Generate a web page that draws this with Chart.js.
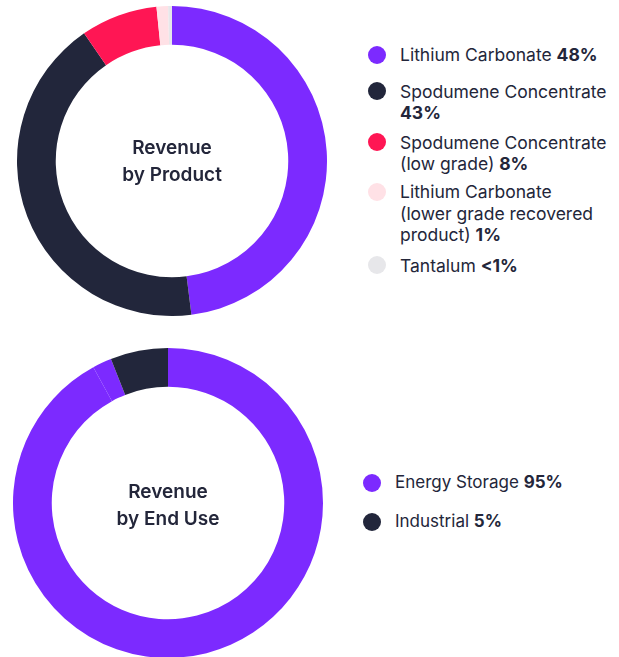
<!DOCTYPE html>
<html>
<head>
<meta charset="utf-8">
<script src="https://cdn.jsdelivr.net/npm/chart.js@4.4.1/dist/chart.umd.min.js"></script>
<style>
    html, body {
        margin: 0;
        padding: 0;
        background: #ffffff;
        width: 619px;
        height: 657px;
        overflow: hidden;
        font-family: Inter, "Noto Sans", sans-serif;
        color: #23263a;
    }
    .chart-box {
        position: absolute;
        width: 310px;
        height: 310px;
    }
    .legend {
        position: absolute;
        font-size: 17px;
        line-height: 21px;
    }
    .legend-item {
        display: flex;
        align-items: flex-start;
    }
    .legend-dot {
        flex: 0 0 18px;
        width: 18px;
        height: 18px;
        border-radius: 50%;
        margin-top: 1.5px;
    }
    .legend-text {
        margin-left: 14px;
        width: 210px;
    }
    #productLegend {
        font-size: 17.5px;
        line-height: 21.5px;
    }
    #productLegend .legend-text {
        width: 208px;
    }
    .legend-text b {
        font-weight: 700;
    }
</style>
</head>
<body>

<div class="chart-box" style="left:17px; top:6px;"><canvas id="productChart"></canvas></div>
<div class="legend" id="productLegend" style="left:368px; top:44px;"></div>

<div class="chart-box" style="left:13px; top:348px;"><canvas id="endUseChart"></canvas></div>
<div class="legend" id="endUseLegend" style="left:363px; top:472px;"></div>

<script>
// Revenue by product
const productLabels = [
    "Lithium Carbonate",
    "Spodumene Concentrate",
    "Spodumene Concentrate (low grade)",
    "Lithium Carbonate (lower grade recovered product)",
    "Tantalum"
];
const productValues = [48, 42.4, 8, 1.2, 0.4];
const productShares = ["48%", "43%", "8%", "1%", "<1%"];
const productColors = ["#7c2aff", "#22263b", "#ff1654", "#ffe1e6", "#e7e7ea"];

// Revenue by end use (energy storage is drawn in two pieces in the original)
const endUseLabels = ["Energy Storage", "Energy Storage", "Industrial"];
const endUseValues = [92, 2, 6];
const endUseColors = ["#7c2aff", "#7c2aff", "#22263b"];
const endUseLegendLabels = ["Energy Storage", "Industrial"];
const endUseShares = ["95%", "5%"];
const endUseLegendColors = ["#7c2aff", "#22263b"];

const productTitle = ["Revenue", "by Product"];
const endUseTitle = ["Revenue", "by End Use"];

const centerText = {
    id: 'centerText',
    afterDraw(chart, args, opts) {
        const ctx = chart.ctx;
        const meta = chart.getDatasetMeta(0).data[0];
        if (!meta) return;
        ctx.save();
        ctx.font = "600 19px Inter, 'Noto Sans', sans-serif";
        ctx.fillStyle = "#23263a";
        ctx.textAlign = "center";
        ctx.textBaseline = "middle";
        const lines = opts.lines || [];
        const lh = 27;
        const start = meta.y + (opts.shift || 0) - (lines.length - 1) * lh / 2;
        lines.forEach((line, i) => ctx.fillText(line, meta.x, start + i * lh));
        ctx.restore();
    }
};

function makeDonut(canvasId, labels, values, colors, titleLines, shift) {
    return new Chart(document.getElementById(canvasId), {
        type: 'doughnut',
        data: {
            labels: labels,
            datasets: [{
                data: values,
                backgroundColor: colors,
                borderWidth: 0,
                hoverOffset: 0,
            }]
        },
        options: {
            responsive: true,
            maintainAspectRatio: false,
            animation: false,
            cutout: '75%',
            layout: { padding: 0 },
            plugins: {
                legend: { display: false },
                tooltip: { enabled: false },
                centerText: { lines: titleLines, shift: shift },
            },
        },
        plugins: [centerText],
    });
}

function buildLegend(containerId, labels, shares, colors, gaps) {
    const box = document.getElementById(containerId);
    labels.forEach((label, i) => {
        const item = document.createElement('div');
        item.className = 'legend-item';
        item.style.marginBottom = (gaps[i] || 0) + 'px';
        item.innerHTML = `<span class="legend-dot" style="background:${colors[i]}"></span>` +
            `<span class="legend-text">${label} <b>${shares[i]}</b></span>`;
        box.appendChild(item);
    });
}

makeDonut('productChart', productLabels, productValues, productColors, productTitle, 1);
makeDonut('endUseChart', endUseLabels, endUseValues, endUseColors, endUseTitle, 3);

buildLegend('productLegend', productLabels, productShares, productColors, [15, 8, 6.5, 9, 0]);
buildLegend('endUseLegend', endUseLegendLabels, endUseShares, endUseLegendColors, [18, 0]);
</script>
</body>
</html>
